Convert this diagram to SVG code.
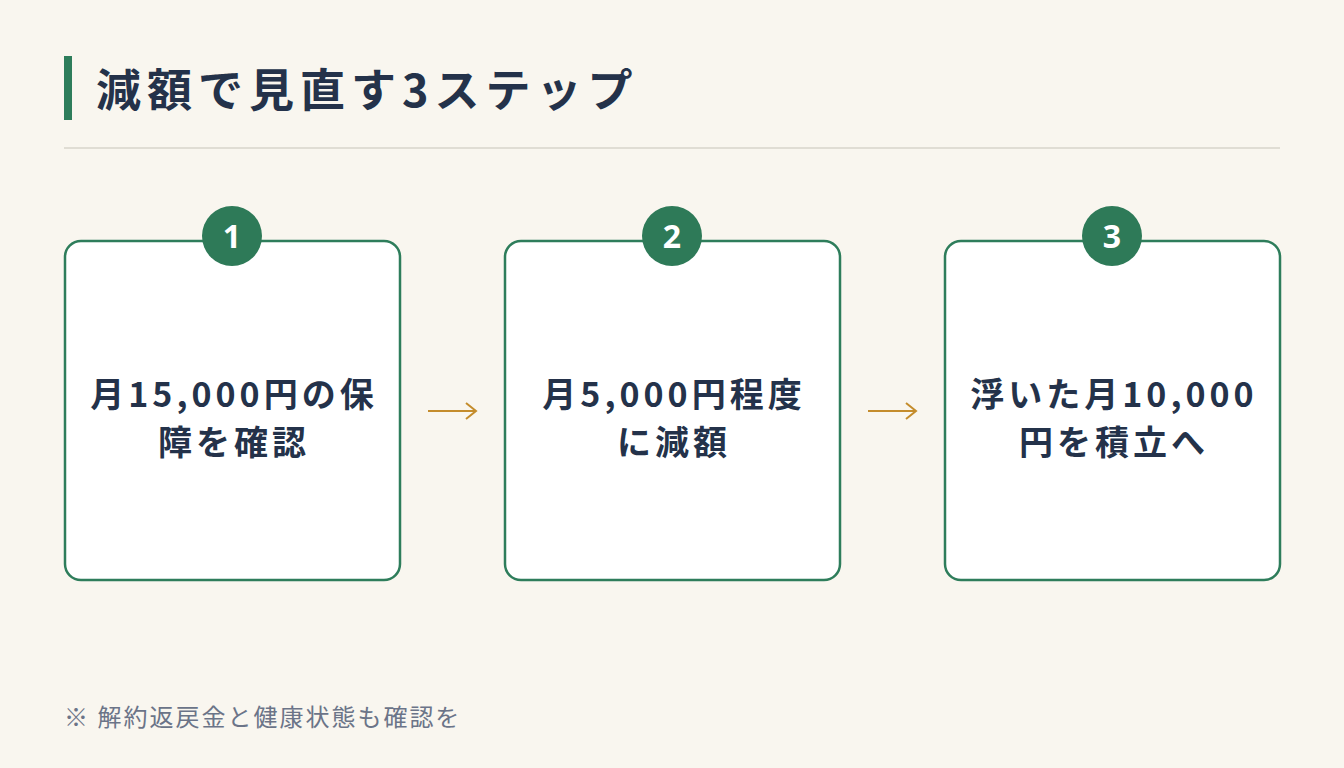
<svg xmlns="http://www.w3.org/2000/svg" width="1344" height="768" viewBox="0 0 1344 768">
<style>
.t{font-family:"Noto Sans CJK JP","Noto Sans",sans-serif;font-weight:700;fill:#24324a}
.box{fill:#fff;stroke:#2e7d5b;stroke-width:2.5}
.num{font-family:"Noto Sans","Noto Sans CJK JP",sans-serif;font-weight:700;fill:#fff;font-size:32px;text-anchor:middle}
.lbl{font-size:34px;text-anchor:middle;letter-spacing:4px}
.arr{fill:none;stroke:#c48c2c;stroke-width:2}
</style>
<rect width="1344" height="768" fill="#f9f6ef"/>
<rect x="64" y="56" width="8" height="64" fill="#2e7d5b"/>
<text class="t" x="96" y="107" font-size="45" letter-spacing="6">減額で見直す3ステップ</text>
<rect x="64" y="147" width="1216" height="2" fill="#e0ddd4"/>
<g id="step1">
<rect class="box" x="65" y="241" width="335" height="339" rx="16"/>
<circle cx="232" cy="236" r="30" fill="#2e7a58"/>
<text class="num" x="232" y="248">1</text>
<text class="t lbl" x="234" y="407">月15,000円の保</text>
<text class="t lbl" x="234" y="455">障を確認</text>
</g>
<g id="step2">
<rect class="box" x="505" y="241" width="335" height="339" rx="16"/>
<circle cx="672" cy="236" r="30" fill="#2e7a58"/>
<text class="num" x="672" y="248">2</text>
<text class="t lbl" x="674" y="407">月5,000円程度</text>
<text class="t lbl" x="674" y="455">に減額</text>
</g>
<g id="step3">
<rect class="box" x="945" y="241" width="335" height="339" rx="16"/>
<circle cx="1112" cy="236" r="30" fill="#2e7a58"/>
<text class="num" x="1112" y="248">3</text>
<text class="t lbl" x="1114" y="407">浮いた月10,000</text>
<text class="t lbl" x="1114" y="455">円を積立へ</text>
</g>
<g id="connectors">
<path class="arr" d="M428 411H476M466 403L476 411L466 419"/>
<path class="arr" d="M868 411H916M906 403L916 411L906 419"/>
</g>
<text x="64" y="726" font-family="Noto Sans CJK JP,sans-serif" font-size="24" letter-spacing="2" fill="#6b7488">※ 解約返戻金と健康状態も確認を</text>
</svg>
